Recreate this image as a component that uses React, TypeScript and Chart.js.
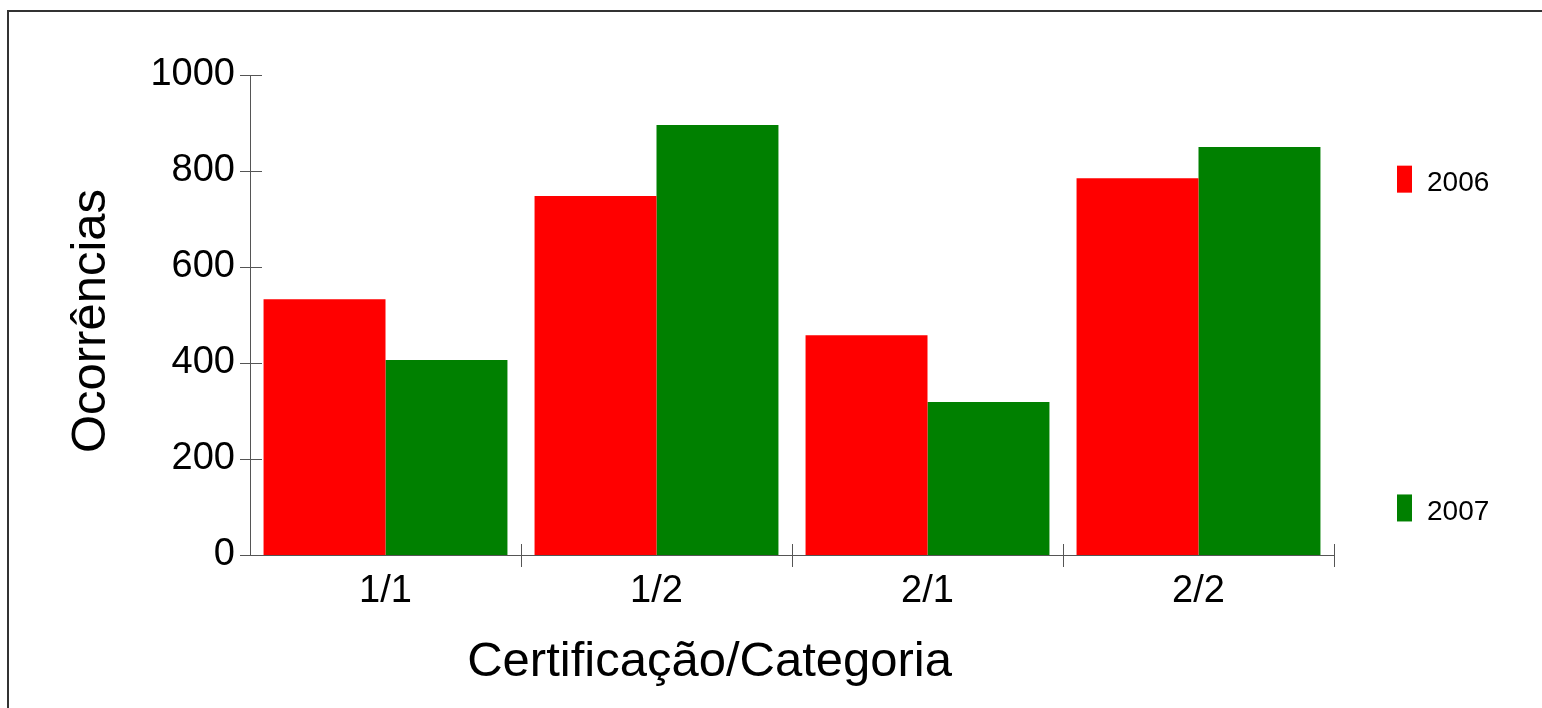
import React, { useEffect, useRef } from "react";
import { Chart, registerables } from "chart.js";

Chart.register(...registerables);

const categories = ["1/1", "1/2", "2/1", "2/2"];
const series2006 = [533, 748, 458, 785];
const series2007 = [406, 896, 319, 850];
const seriesLabels = ["2006", "2007"];
const yTicks = [0, 200, 400, 600, 800, 1000];
const xTitle = "Certificação/Categoria";
const yTitle = "Ocorrências";

const FONT = "'Liberation Sans', Arial, sans-serif";
const AXIS_COLOR = "#555555";

const decorPlugin = {
  id: "decor",
  beforeDraw(chart: any) {
    const ctx = chart.ctx;
    ctx.save();
    ctx.strokeStyle = "#333333";
    ctx.lineWidth = 2;
    ctx.beginPath();
    ctx.moveTo(7, 11);
    ctx.lineTo(chart.width, 11);
    ctx.moveTo(8, 10);
    ctx.lineTo(8, chart.height);
    ctx.stroke();
    ctx.restore();
  },
  afterDraw(chart: any) {
    const ctx = chart.ctx;
    const xs = chart.scales.x;
    const ys = chart.scales.y;
    const area = chart.chartArea;
    ctx.save();
    ctx.strokeStyle = AXIS_COLOR;
    ctx.lineWidth = 1;
    ctx.beginPath();
    yTicks.forEach((v) => {
      const y = Math.round(ys.getPixelForValue(v)) + 0.5;
      ctx.moveTo(area.left - 10, y);
      ctx.lineTo(area.left + 12, y);
    });
    const n = categories.length;
    const step = (area.right - area.left) / n;
    for (let i = 1; i <= n; i++) {
      const x = Math.round(xs.getPixelForValue(i - 1) + step / 2) + 0.5;
      ctx.moveTo(x, area.bottom - 11);
      ctx.lineTo(x, area.bottom + 12);
    }
    ctx.stroke();

    const colors = ["#ff0000", "#008000"];
    const legendY = [
      area.top + (area.bottom - area.top) * 0.217,
      area.top + (area.bottom - area.top) * 0.902,
    ];
    ctx.font = `28px ${FONT}`;
    ctx.textBaseline = "middle";
    ctx.textAlign = "left";
    seriesLabels.forEach((lab, i) => {
      ctx.fillStyle = colors[i];
      ctx.fillRect(area.right + 63, legendY[i] - 13.5, 15, 27);
      ctx.fillStyle = "#000000";
      ctx.fillText(lab, area.right + 93, legendY[i] + 4);
    });

    ctx.font = `49px ${FONT}`;
    ctx.fillStyle = "#000000";
    ctx.textAlign = "center";
    ctx.textBaseline = "middle";
    ctx.fillText(xTitle, area.left + (area.right - area.left) * 0.424, 662);
    ctx.save();
    ctx.translate(91, (area.top + area.bottom) / 2 + 6);
    ctx.rotate(-Math.PI / 2);
    ctx.fillText(yTitle, 0, 0);
    ctx.restore();
    ctx.restore();
  },
};

export default function App() {
  const ref = useRef<HTMLCanvasElement>(null);
  useEffect(() => {
    if (!ref.current) return;
    const chart = new Chart(ref.current, {
      type: "bar",
      data: {
        labels: categories,
        datasets: [
          {
            label: seriesLabels[0],
            data: series2006,
            backgroundColor: "#ff0000",
            borderWidth: 0,
            barPercentage: 1,
            categoryPercentage: 0.9,
          },
          {
            label: seriesLabels[1],
            data: series2007,
            backgroundColor: "#008000",
            borderWidth: 0,
            barPercentage: 1,
            categoryPercentage: 0.9,
          },
        ],
      },
      options: {
        responsive: false,
        animation: false,
        devicePixelRatio: 1,
        layout: { padding: { left: 0, top: 75, right: 208, bottom: 0 } },
        plugins: { legend: { display: false }, tooltip: { enabled: false } },
        scales: {
          x: {
            grid: { display: false },
            border: { display: true, color: AXIS_COLOR, width: 1 },
            ticks: { font: { size: 38, family: FONT }, color: "#000000", padding: 6 },
            afterFit: (s: any) => {
              s.height = 153;
            },
          },
          y: {
            min: 0,
            max: 1000,
            grid: { display: false },
            border: { display: true, color: AXIS_COLOR, width: 1 },
            afterBuildTicks: (s: any) => {
              s.ticks = yTicks.map((v) => ({ value: v }));
            },
            ticks: {
              font: { size: 38, family: FONT },
              color: "#000000",
              padding: 7,
              callback: (v: any) => String(v),
            },
            afterFit: (s: any) => {
              s.width = 250;
            },
          },
        },
      },
      plugins: [decorPlugin],
    });
    return () => chart.destroy();
  }, []);
  return (
    <div style={{ position: "fixed", left: 0, top: 0, width: 1542, height: 708, background: "#fff" }}>
      <canvas ref={ref} width={1542} height={708} style={{ display: "block" }} />
    </div>
  );
}
